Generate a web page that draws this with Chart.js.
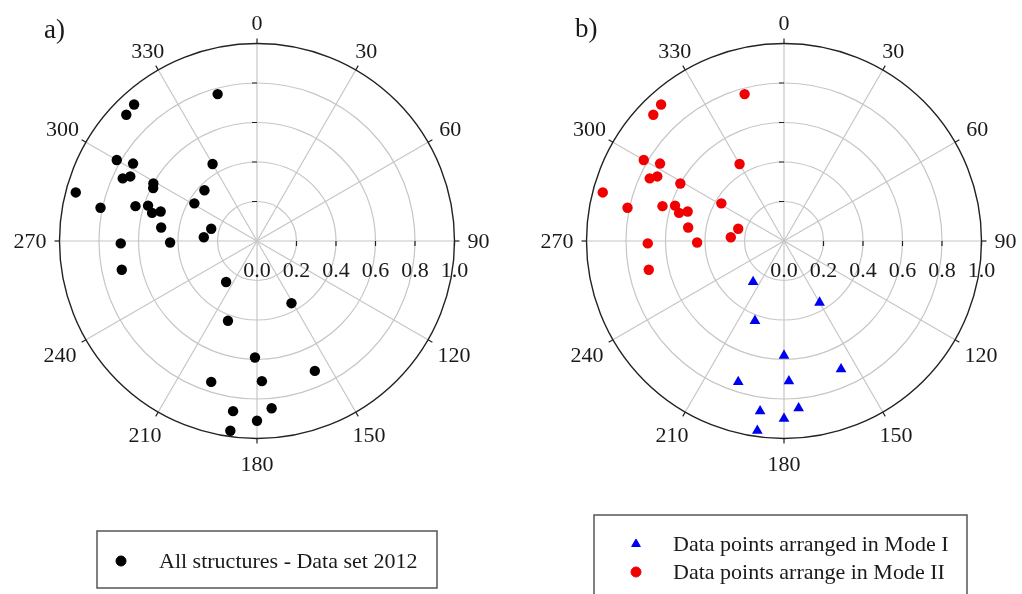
<!DOCTYPE html>
<html>
<head>
<meta charset="utf-8">
<script src="https://cdn.jsdelivr.net/npm/chart.js@4.4.0/dist/chart.umd.min.js"></script>
<style>
html, body { margin: 0; padding: 0; background: #fff; }
#wrap { position: relative; width: 1022px; height: 594px; overflow: hidden; }
canvas { position: absolute; top: 0; }
</style>
</head>
<body>
<div id="wrap">
  <canvas id="chartA" width="511" height="594" style="left:0"></canvas>
  <canvas id="chartB" width="511" height="594" style="left:511px"></canvas>
</div>
<script>
// 角度の目盛り（北=0、時計回り）
var angleTicks  = [0, 30, 60, 90, 120, 150, 180, 210, 240, 270, 300, 330];
// 半径の目盛り
var radialTicks  = [0.0, 0.2, 0.4, 0.6, 0.8, 1.0];
var radialLabels = ["0.0", "0.2", "0.4", "0.6", "0.8", "1.0"];

// a) All structures - Data set 2012
var allAngles = [345, 318, 314, 300, 302, 330, 295, 297, 299, 297, 285, 314, 282, 286, 288, 285, 287, 301,
                 278, 285, 274, 269, 269, 258, 217, 151, 200, 181, 198, 178, 156, 188, 175, 180, 188];
var allRadii  = [0.77, 0.93, 0.92, 0.82, 0.74, 0.45, 0.75, 0.72, 0.60, 0.59, 0.95, 0.37, 0.81, 0.64, 0.58, 0.55, 0.51, 0.37,
                 0.49, 0.24, 0.27, 0.44, 0.69, 0.70, 0.26, 0.36, 0.43, 0.59, 0.75, 0.71, 0.72, 0.87, 0.85, 0.91, 0.97];

// b) Mode I
var modeIAngles = [217, 200, 198, 188, 188, 150, 180, 156, 178, 175, 180];
var modeIRadii  = [0.26, 0.43, 0.75, 0.87, 0.97, 0.36, 0.58, 0.71, 0.71, 0.85, 0.90];

// b) Mode II
var modeIIAngles = [345, 318, 314, 300, 302, 330, 295, 297, 299, 285, 282, 286, 288, 285, 287, 301, 278, 285, 274, 269, 269, 258];
var modeIIRadii  = [0.77, 0.93, 0.92, 0.82, 0.74, 0.45, 0.75, 0.72, 0.60, 0.95, 0.81, 0.64, 0.58, 0.55, 0.51, 0.37, 0.49, 0.24, 0.27, 0.44, 0.69, 0.70];

var FONT = "'Liberation Serif', 'Times New Roman', serif";

// 極座標 -> x/y（北=0、時計回り）
function toXY(angles, radii) {
    return angles.map(function (a, i) {
        var t = a * Math.PI / 180;
        return { x: radii[i] * Math.sin(t), y: radii[i] * Math.cos(t) };
    });
}

// 極座標の枠・目盛り・凡例を描くプラグイン
var polarFrame = {
    id: "polarFrame",
    beforeDatasetsDraw: function (chart, args, opts) {
        var ctx = chart.ctx;
        var xs = chart.scales.x, ys = chart.scales.y;
        var cx = xs.getPixelForValue(0), cy = ys.getPixelForValue(0);
        var R  = xs.getPixelForValue(1) - cx;
        ctx.save();

        // 同心円
        ctx.strokeStyle = "#c6c6c6";
        ctx.lineWidth = 1.2;
        radialTicks.forEach(function (r) {
            if (r <= 0 || r >= 1) return;
            ctx.beginPath();
            ctx.arc(cx, cy, r * R, 0, Math.PI * 2);
            ctx.stroke();
        });

        // 放射線
        angleTicks.forEach(function (a) {
            var t = a * Math.PI / 180;
            ctx.beginPath();
            ctx.moveTo(cx, cy);
            ctx.lineTo(cx + R * Math.sin(t), cy - R * Math.cos(t));
            ctx.stroke();
        });

        // 外周
        ctx.strokeStyle = "#222";
        ctx.lineWidth = 1.4;
        ctx.beginPath();
        ctx.arc(cx, cy, R, 0, Math.PI * 2);
        ctx.stroke();

        // 外周の目盛り
        ctx.lineWidth = 1.2;
        angleTicks.forEach(function (a) {
            var t = a * Math.PI / 180;
            ctx.beginPath();
            ctx.moveTo(cx + R * Math.sin(t), cy - R * Math.cos(t));
            ctx.lineTo(cx + (R + 5) * Math.sin(t), cy - (R + 5) * Math.cos(t));
            ctx.stroke();
        });

        // 半径軸の目盛り（0度の軸は左へ、90度の軸は下へ）
        radialTicks.forEach(function (r) {
            if (r <= 0) return;
            ctx.beginPath();
            ctx.moveTo(cx - 5, cy - r * R);
            ctx.lineTo(cx, cy - r * R);
            ctx.moveTo(cx + r * R, cy);
            ctx.lineTo(cx + r * R, cy + 5);
            ctx.stroke();
        });

        // 角度ラベル
        ctx.fillStyle = "#1a1a1a";
        ctx.font = "22px " + FONT;
        ctx.textAlign = "center";
        ctx.textBaseline = "middle";
        angleTicks.forEach(function (a) {
            var t = a * Math.PI / 180;
            var s = Math.sin(t), c = Math.cos(t);
            var w = ctx.measureText(String(a)).width;
            var ext = Math.min(Math.abs(s) > 1e-6 ? (w / 2) / Math.abs(s) : 1e9,
                               Math.abs(c) > 1e-6 ? 7 / Math.abs(c) : 1e9);
            var d = R + 13 + ext + (c < 0 ? 6 * Math.abs(c) : 0);
            ctx.fillText(String(a), cx + d * s, cy - d * c + 1);
        });

        // 半径ラベル
        radialTicks.forEach(function (r, i) {
            ctx.fillText(radialLabels[i], cx + r * R, cy + 30);
        });

        // パネル名
        ctx.textAlign = "left";
        ctx.font = "27px " + FONT;
        ctx.fillText(opts.title, opts.titleX, opts.titleY);
        ctx.restore();
    },
    afterDraw: function (chart, args, opts) {
        var ctx = chart.ctx;
        var lg = opts.legend;
        ctx.save();
        ctx.strokeStyle = "#555";
        ctx.lineWidth = 1.5;
        ctx.strokeRect(lg.x, lg.y, lg.w, lg.h);
        ctx.font = "22px " + FONT;
        ctx.fillStyle = "#1a1a1a";
        ctx.textAlign = "left";
        ctx.textBaseline = "middle";
        lg.items.forEach(function (it, k) {
            var ds = chart.data.datasets[it.dataset];
            var yy = lg.rowY[k];
            ctx.fillStyle = ds.backgroundColor;
            ctx.strokeStyle = ds.backgroundColor;
            ctx.lineWidth = 1;
            Chart.helpers.drawPoint(ctx, { pointStyle: ds.pointStyle, radius: it.radius, borderWidth: 1 }, lg.markerX, yy);
            ctx.fillStyle = "#1a1a1a";
            ctx.fillText(ds.label, lg.textX, yy + 1);
        });
        ctx.restore();
    }
};

function hiddenScales() {
    return {
        x: { type: "linear", min: -1, max: 1, display: false },
        y: { type: "linear", min: -1, max: 1, display: false }
    };
}

new Chart(document.getElementById("chartA").getContext("2d"), {
    type: "scatter",
    data: {
        datasets: [{
            label: "All structures - Data set 2012",
            data: toXY(allAngles, allRadii),
            pointStyle: "circle",
            pointRadius: 5.2,
            backgroundColor: "#000000",
            borderColor: "#000000",
            borderWidth: 0,
            clip: false
        }]
    },
    options: {
        responsive: false,
        animation: false,
        events: [],
        layout: { padding: { left: 59.5, top: 43.5, right: 56.5, bottom: 155.5 } },
        scales: hiddenScales(),
        plugins: {
            legend: { display: false },
            tooltip: { enabled: false },
            polarFrame: {
                title: "a)", titleX: 44, titleY: 31,
                legend: { x: 97, y: 531, w: 340, h: 57, markerX: 121, textX: 159,
                          rowY: [561], items: [{ dataset: 0, radius: 5 }] }
            }
        }
    },
    plugins: [polarFrame]
});

new Chart(document.getElementById("chartB").getContext("2d"), {
    type: "scatter",
    data: {
        datasets: [{
            label: "Data points arranged in Mode I",
            data: toXY(modeIAngles, modeIRadii),
            pointStyle: "triangle",
            pointRadius: 6.2,
            backgroundColor: "#0000f0",
            borderColor: "#0000f0",
            borderWidth: 0,
            clip: false
        }, {
            label: "Data points arrange in Mode II",
            data: toXY(modeIIAngles, modeIIRadii),
            pointStyle: "circle",
            pointRadius: 5.2,
            backgroundColor: "#f00000",
            borderColor: "#f00000",
            borderWidth: 0,
            clip: false
        }]
    },
    options: {
        responsive: false,
        animation: false,
        events: [],
        layout: { padding: { left: 75.5, top: 43.5, right: 40.5, bottom: 155.5 } },
        scales: hiddenScales(),
        plugins: {
            legend: { display: false },
            tooltip: { enabled: false },
            polarFrame: {
                title: "b)", titleX: 64, titleY: 30,
                legend: { x: 83, y: 515, w: 373, h: 100, markerX: 125, textX: 162,
                          rowY: [544, 572],
                          items: [{ dataset: 0, radius: 5 }, { dataset: 1, radius: 5 }] }
            }
        }
    },
    plugins: [polarFrame]
});
</script>
</body>
</html>
